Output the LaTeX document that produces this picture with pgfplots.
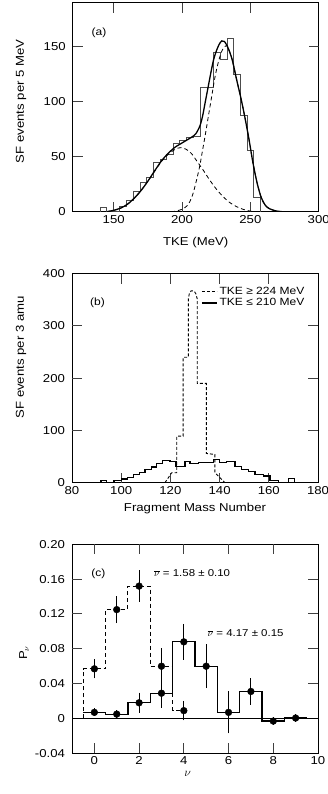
\documentclass[border=0pt]{standalone}
\usepackage{fontspec}
\setmainfont[FakeStretch=1.15]{Liberation Sans}
\usepackage{pgfplots}
\pgfplotsset{compat=1.18}
\newcommand\fs[1]{\fontsize{#1}{#1}\selectfont}
\tikzset{tk/.style={black!75, line width=1bp}}
\pgfplotsset{
  myax/.style={
    scale only axis, width=246bp, height=209bp,
    anchor=south west,
    axis line style={line width=1bp},
    major tick length=10bp,
    tick style={black!80, line width=1bp},
    tick label style={font=\fs{11.5}},
    yticklabel style={xshift=-3.5bp},
    label style={font=\fs{11.5}},
  }
}
\begin{document}
\begin{tikzpicture}
% ---------------- panel (a)
\begin{axis}[myax, at={(72.7bp,582bp)},
  xmin=120, xmax=300, ymin=0, ymax=190,
  xtick={150,200,250,300}, xticklabels={150,200,250,300},
  ytick={0,50,100,150}, yticklabels={0,50,100,150},
  xlabel={TKE (MeV)}, ylabel={SF events per 5 MeV},
  xlabel style={at={(axis description cs:0.5,-0.145)}, anchor=center},
  ylabel style={at={(axis description cs:-0.21,0.53)}, anchor=center}]
\pgfplotsinvokeforeach{150,200,250}{\draw[tk] (axis cs:#1,0) -- (axis cs:#1,9.09); \draw[tk] (axis cs:#1,190) -- (axis cs:#1,180.91);}
\pgfplotsinvokeforeach{50,100,150}{\draw[tk] (axis cs:120,#1) -- (axis cs:127.32,#1); \draw[tk] (axis cs:300,#1) -- (axis cs:292.68,#1);}
\addplot[const plot, black!70, line width=1bp] coordinates {
(140.5,0)(140.5,4)(145,0)(154.5,5)(159.5,10)(164.5,19)(169.3,27)(174.2,31)(179,45)(184,48)(188.8,52)(193.7,62)(198.5,65)(203.5,68)(208.3,69)(213.2,113)(218,113)(223,145)(228,138.5)(233,158)(237.8,125)(242.7,88)(247.7,56)(252.5,13)(257.5,0)};
\addplot[black, line width=0.8bp, dash pattern=on 4bp off 3bp, smooth] coordinates {
(145,0.3)(150,1.5)(155,3.5)(160,7)(165,12.5)(170,19.5)(175,28)(180,37)(185,46)(190,52.5)(195,57)(199,58.5)(203,57)(207,53)(211,46)(215,39)(220,29.5)(225,21)(230,14)(235,8.5)(240,4.8)(245,2.3)(250,0.8)(255,0)};
\addplot[black, line width=0.8bp, dash pattern=on 4bp off 3bp, smooth] coordinates {
(192,0)(196,1)(200,2.5)(204,6)(207,13)(209,21)(211,31)(213,42)(215,56)(217,70)(219,85)(221.7,105)(224,122)(226.5,136)(229,146)(231,150)(233,151)(235,145)(237,137)(240,120)(243,104)(246,86)(249,66)(252,44)(255,26)(258,13)(261,6)(264,3)(268,1.2)(272,0.4)(277,0)};
\addplot[black, line width=1.3bp, smooth] coordinates {
(145,0.3)(150,1.5)(155,3.5)(160,7)(165,12.5)(170,19.5)(175,28)(180,37.5)(185,46.5)(190,53.5)(195,59)(199,62)(203,65)(207,68)(210,71)(213,78)(215,87)(217,100)(219,113)(221,126)(223,138)(225,146)(227,152)(229,155.5)(231,155)(233,151)(235,145)(237,137)(240,120)(243,104)(246,86)(249,66)(252,44)(255,26)(258,13)(261,6)(264,3)(268,1.2)(272,0.4)(277,0)};
\node at (axis cs:139.2,163) {\fs{10.5}(a)};
\end{axis}
% ---------------- panel (b)
\begin{axis}[myax, at={(72bp,311.3bp)},
  xmin=80, xmax=180, ymin=0, ymax=400,
  xtick={80,100,120,140,160,180}, xticklabels={80,100,120,140,160,180},
  ytick={0,100,200,300,400}, yticklabels={0,100,200,300,400},
  xlabel={Fragment Mass Number}, ylabel={SF events per 3 amu},
  xlabel style={at={(axis description cs:0.5,-0.126)}, anchor=center},
  ylabel style={at={(axis description cs:-0.207,0.60)}, anchor=center},
  legend style={at={(axis description cs:0.525,0.945)}, anchor=north west, draw=none, fill=none, font=\fs{10.5}, row sep=-1.5bp, inner sep=0pt},
  legend cell align=left,
  legend image code/.code={\draw[#1] (0bp,0bp) -- (15bp,0bp);}]
\pgfplotsinvokeforeach{100,120,140,160}{\draw[tk] (axis cs:#1,0) -- (axis cs:#1,19.14); \draw[tk] (axis cs:#1,400) -- (axis cs:#1,380.86);}
\pgfplotsinvokeforeach{100,200,300}{\draw[tk] (axis cs:80,#1) -- (axis cs:84.07,#1); \draw[tk] (axis cs:180,#1) -- (axis cs:175.93,#1);}
\addplot[black, line width=0.9bp, dash pattern=on 3bp off 2bp] coordinates {
(117.8,0)(120.5,19)(122.6,19)(122.6,89)(125.2,89)(125.2,240)(127.3,240)(127.3,352)(127.7,362)(128.4,367)(129.6,367)(130.3,362)(130.9,352)(130.9,190)(134.6,190)(134.6,56)(138.1,54)(138.1,19)(142.2,0)};
\addlegendentry{TKE ≥ 224 MeV}
\addplot[const plot, black, line width=1.2bp] coordinates {
(91.8,0)(91.8,4.5)(94.1,0)(97.1,4.5)(100.2,7)(102.5,10)(104.9,15)(107.6,20)(109.7,25)(112.4,30)(114.4,36)(116.9,42)(119.8,40)(122.3,31)(125.9,40)(128,36)(131.4,38)(137.4,44)(139.9,38)(142.9,41)(146.3,31)(149,25)(151.7,21)(154.4,16)(157.8,13)(160.5,4.5)(163.9,0)(168,7.5)(170.3,0)};
\addlegendentry{TKE ≤ 210 MeV}
\node at (axis cs:90.4,344) {\fs{10.5}(b)};
\end{axis}
% ---------------- panel (c)
\begin{axis}[myax, at={(72bp,40.7bp)},
  xmin=-1, xmax=10, ymin=-0.04, ymax=0.2,
  xtick={0,2,4,6,8,10}, xticklabels={0,2,4,6,8,10},
  ytick={-0.04,0,0.04,0.08,0.12,0.16,0.2}, yticklabels={-0.04,0,0.04,0.08,0.12,0.16,0.20},
  xlabel={$\nu$}, ylabel={P$_{\nu}$},
  xlabel style={at={(axis description cs:0.47,-0.10)}, anchor=center},
  ylabel style={at={(axis description cs:-0.195,0.48)}, anchor=center}]
\pgfplotsinvokeforeach{0,2,4,6,8}{\draw[tk] (axis cs:#1,-0.04) -- (axis cs:#1,-0.02852); \draw[tk] (axis cs:#1,0.2) -- (axis cs:#1,0.18852);}
\pgfplotsinvokeforeach{0,0.04,0.08,0.12,0.16}{\draw[tk] (axis cs:-1,#1) -- (axis cs:-0.553,#1); \draw[tk] (axis cs:10,#1) -- (axis cs:9.553,#1);}
\addplot[black, line width=0.8bp] coordinates {(-1,0)(10,0)};
\addplot[const plot, black, line width=0.9bp, dash pattern=on 4bp off 3bp] coordinates {
(-0.5,0)(-0.5,0.057)(0.5,0.125)(1.5,0.152)(2.5,0.060)(3.5,0.009)(4.0,0.009)};
\addplot[const plot, black, line width=1.2bp] coordinates {
(-0.5,0.007)(0.5,0.005)(1.5,0.018)(2.5,0.029)(3.5,0.088)(4.5,0.060)(5.5,0.007)(6.5,0.031)(7.5,-0.003)(8.5,0.0005)(9.5,0.0005)};
\addplot[only marks, mark=*, mark size=3.4bp, black,
  error bars/.cd, y dir=both, y explicit,
  error bar style={line width=0.9bp, black},
  error mark options={black, mark size=4bp, line width=0.9bp}]
  table[x=x, y=y, y error=e] {
x y e
0 0.057 0.0065
1 0.125 0.011
2 0.152 0.0135
3 0.060 0.016
4 0.009 0.0065
0 0.007 0
1 0.005 0
2 0.018 0.007
3 0.029 0.012
4 0.088 0.016
5 0.060 0.0205
6 0.007 0.0195
7 0.031 0.0107
8 -0.003 0
9 0.0005 0
};
\node at (axis cs:0.18,0.1667) {\fs{10.5}(c)};
\node[anchor=west] at (axis cs:2.52,0.1667) {\fs{10}$\overline{\nu}$ = 1.58 ± 0.10};
\node[anchor=west] at (axis cs:4.91,0.0978) {\fs{10}$\overline{\nu}$ = 4.17 ± 0.15};
\end{axis}
\pgfresetboundingbox
\useasboundingbox (0bp,0bp) rectangle (328bp,794bp);
\end{tikzpicture}
\end{document}
